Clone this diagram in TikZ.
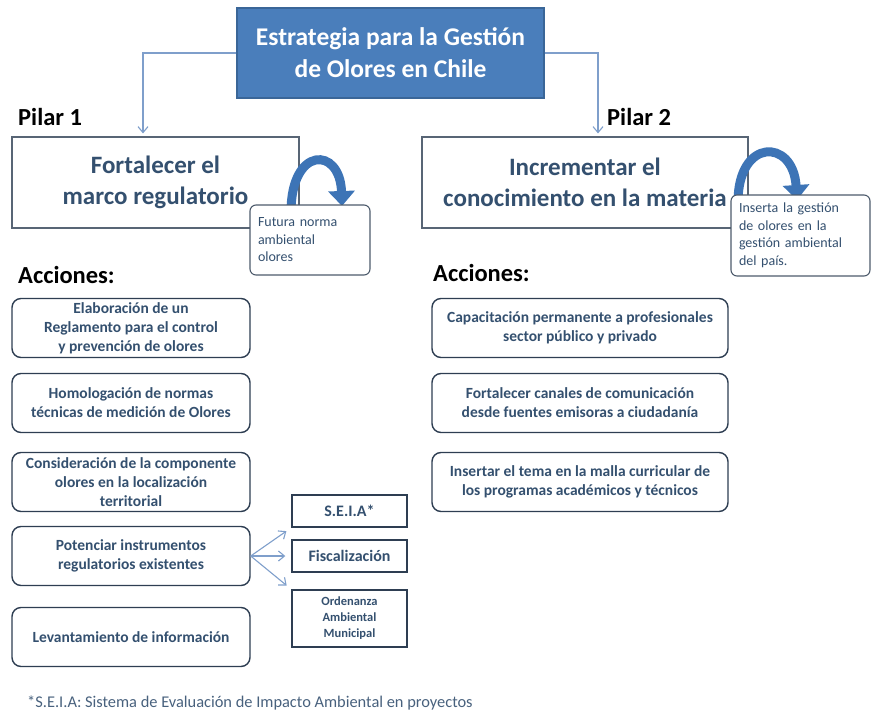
\documentclass[tikz,border=0pt]{standalone}
\usepackage{fontspec}
\setmainfont{Carlito}
\usepackage{tikz}
\usetikzlibrary{arrows.meta}
\definecolor{titleblue}{HTML}{4A7EBB}
\definecolor{titleedge}{HTML}{3A6698}
\definecolor{darktext}{HTML}{34506F}
\definecolor{boxedge}{HTML}{2E3E52}
\definecolor{linkblue}{HTML}{7F9FCB}
\definecolor{curlblue}{HTML}{3D74B6}

\tikzset{
	titlebox/.style={draw=titleedge, line width=1.2pt, fill=titleblue, text=white, font=\bfseries\fontsize{25.5}{32}\selectfont, align=center, minimum width=307pt, minimum height=90pt, inner sep=0pt},
	pilarbox/.style={draw=boxedge!80, line width=1.1pt, fill=white, text=darktext, font=\bfseries\fontsize{25}{31}\selectfont, align=center, minimum height=91pt, inner sep=0pt},
	callout/.style={draw=boxedge!85, line width=1.1pt, rounded corners=6pt, fill=white, text=darktext, font=\fontsize{14}{17.5}\selectfont, align=left, inner xsep=8pt, inner ysep=0pt, text width=#1},
	accion/.style={draw=boxedge, line width=1.4pt, rounded corners=9pt, fill=white, text=darktext, font=\bfseries\fontsize{15.5}{19}\selectfont, align=center, minimum height=59pt, inner sep=0pt},
	instr/.style={draw=boxedge, line width=1.4pt, fill=white, text=darktext, font=\bfseries\fontsize{#1}{16}\selectfont, align=center, minimum width=115pt, inner sep=0pt},
	heading/.style={text=black, font=\bfseries\fontsize{24.5}{29}\selectfont, anchor=west, inner sep=0pt},
	link/.style={draw=linkblue, line width=1.1pt, -{Straight Barb[length=6pt,width=10pt]}},
	curl/.style={draw=curlblue, line width=9pt, -{Triangle[length=15pt,width=26pt]}}
}

\begin{document}
\begin{tikzpicture}[x=1pt, y=-1pt]
	\useasboundingbox (0,0) rectangle (873,715);

	% title and the two pillars
	\node[titlebox] (titulo) at (390.5,53) {Estrategia para la Gestión\\de Olores en Chile};
	\node[heading] (pilar1) at (18,117) {Pilar 1};
	\node[heading] (pilar2) at (607,117) {Pilar 2};
	\node[pilarbox, minimum width=287pt] (fortalecer) at (155.5,182.5) {Fortalecer el\\marco regulatorio};
	\node[pilarbox, minimum width=326pt] (incrementar) at (585,182.5) {Incrementar el\\conocimiento en la materia};
	\draw[link, shorten >=3pt] (titulo.west) -| ([xshift=-12.5pt]fortalecer.north);
	\draw[link, shorten >=3pt] (titulo.east) -| ([xshift=13pt]incrementar.north);

	% curled arrows with their notes
	\coordinate (c1a) at (291,212);
	\coordinate (c1b) at (342,206);
	\draw[curl] (c1a) .. controls (291,146) and (340,146) .. (c1b);
	\node[callout=104pt, minimum height=70pt] (futura) at (310,240) {Futura norma\\ambiental\\olores};
	\coordinate (c2a) at (738,202);
	\coordinate (c2b) at (797,200);
	\draw[curl] (c2a) .. controls (738,138) and (793,138) .. (c2b);
	\node[callout=123pt, minimum height=81pt] (inserta) at (800.5,235.5) {Inserta la gestión\\de olores en la\\gestión ambiental\\del país.};

	% acciones pilar 1
	\node[heading] (acc1) at (18,275) {Acciones:};
	\node[accion, minimum width=238pt] (reglamento) at (131,328) {Elaboración de un\\Reglamento para el control\\y prevención de olores};
	\node[accion, minimum width=238pt] (normas) at (131,403) {Homologación de normas\\técnicas de medición de Olores};
	\node[accion, minimum width=238pt] (territorio) at (131,482) {Consideración de la componente\\olores en la localización\\territorial};
	\node[accion, minimum width=238pt] (potenciar) at (131,556) {Potenciar instrumentos\\regulatorios existentes};
	\node[accion, minimum width=238pt] (levantar) at (131,637) {Levantamiento de información};

	% instrumentos existentes
	\node[instr=16, minimum height=32pt] (seia) at (349.5,511) {S.E.I.A*};
	\node[instr=16, minimum height=32pt] (fisca) at (349.5,556) {Fiscalización};
	\node[instr=12.5, minimum height=57pt] (ordenanza) at (349.5,618.5) {Ordenanza\\Ambiental\\Municipal};
	\draw[link, shorten >=6pt] (potenciar.east) -- (seia.south west);
	\draw[link, shorten >=6pt] (potenciar.east) -- (fisca.west);
	\draw[link, shorten >=6pt] (potenciar.east) -- (ordenanza.north west);

	% acciones pilar 2
	\node[heading] (acc2) at (433,273) {Acciones:};
	\node[accion, minimum width=296pt] (capacitar) at (580,328) {Capacitación permanente a profesionales\\sector público y privado};
	\node[accion, minimum width=296pt] (canales) at (580,403) {Fortalecer canales de comunicación\\desde fuentes emisoras a ciudadanía};
	\node[accion, minimum width=296pt] (malla) at (580,482) {Insertar el tema en la malla curricular de\\los programas académicos y técnicos};

	% nota
	\node[anchor=west, inner sep=0pt, text=darktext!90, font=\fontsize{16.4}{19}\selectfont] (nota) at (27,703) {*S.E.I.A: Sistema de Evaluación de Impacto Ambiental en proyectos};
\end{tikzpicture}
\end{document}
